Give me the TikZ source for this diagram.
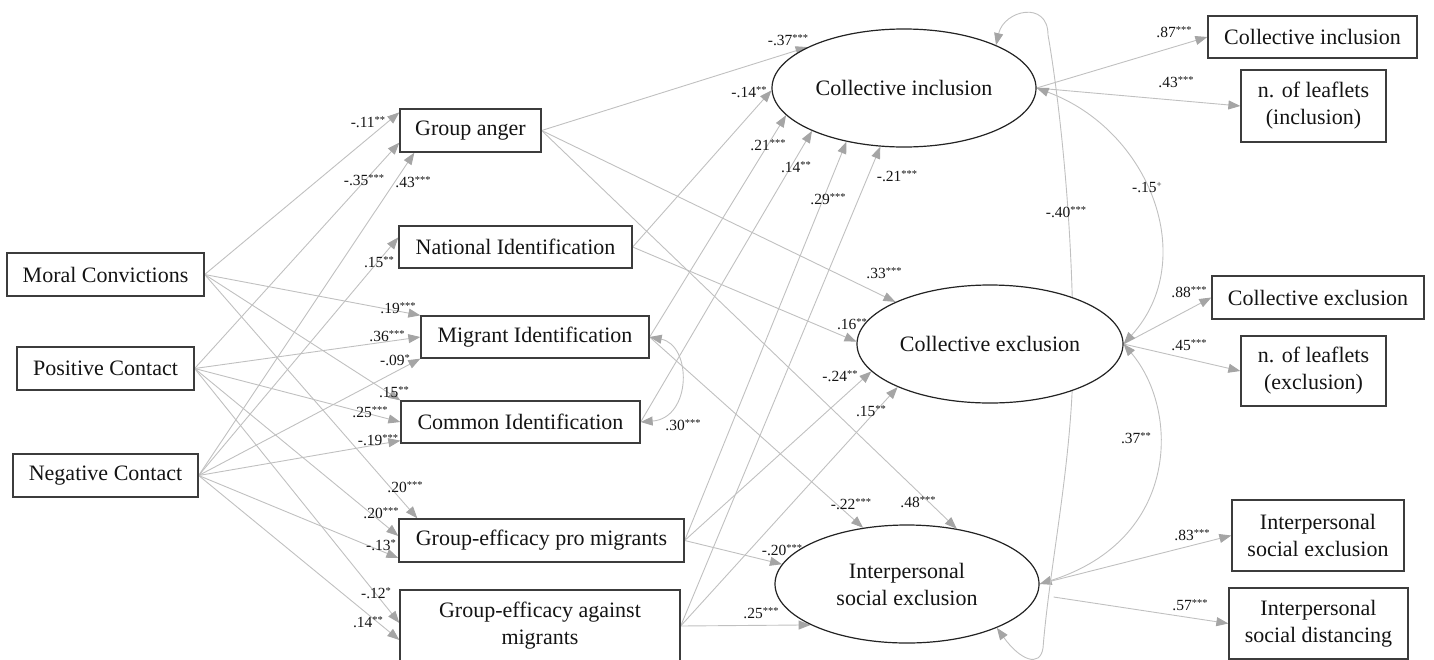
\documentclass[tikz,border=0pt]{standalone}
\usepackage{fontspec}
\setmainfont{Liberation Serif}
\usetikzlibrary{shapes.geometric,arrows.meta,calc}
\pgfdeclarelayer{bg}
\pgfsetlayers{bg,main}
\definecolor{linec}{RGB}{192,192,192}
\definecolor{headc}{RGB}{165,165,165}
\definecolor{boxc}{RGB}{60,60,60}
\definecolor{ellc}{RGB}{35,35,35}
\definecolor{txtc}{RGB}{20,20,20}
\newcommand{\pst}[1]{\raisebox{4.2pt}{\fontsize{10.5}{10.5}\selectfont #1}}
\begin{document}
\begin{tikzpicture}[x=1pt,y=-1pt,
  box/.style={draw=boxc,line width=1.3pt,fill=white,inner sep=0pt,align=center,text=txtc,font=\fontsize{22}{27}\selectfont},
  lat/.style={ellipse,draw=ellc,line width=1.2pt,fill=white,inner sep=0pt,align=center,text=txtc,font=\fontsize{22}{27}\selectfont,minimum width=264,minimum height=118},
  lab/.style={inner sep=0pt,text=txtc,font=\fontsize{15.5}{16}\selectfont},
  arr/.style={draw=linec,line width=0.9pt,-{Triangle[length=12pt,width=9pt,color=headc]}},
  cov/.style={draw=linec,line width=0.9pt,{Triangle[length=12pt,width=9pt,color=headc]}-{Triangle[length=12pt,width=9pt,color=headc]}}
]
\useasboundingbox (0,0) rectangle (1434,659);
% left
\node[box,minimum width=197,minimum height=43] (mc) at (105.5,274.5) {Moral Convictions};
\node[box,minimum width=177,minimum height=43] (pc) at (105.5,368.5) {Positive Contact};
\node[box,minimum width=185,minimum height=43] (nc) at (105.5,475.5) {Negative Contact};
% middle
\node[box,minimum width=141,minimum height=43] (ga) at (470.5,130.5) {Group anger};
\node[box,minimum width=233,minimum height=42] (ni) at (515.5,247) {National Identification};
\node[box,minimum width=228,minimum height=42] (mi) at (535,337) {Migrant Identification};
\node[box,minimum width=239,minimum height=42] (cid) at (520.5,422) {Common Identification};
\node[box,minimum width=285,minimum height=43] (gep) at (541.5,540.5) {Group-efficacy pro migrants};
\node[box,minimum width=280,minimum height=72] (gea) at (540,626) {Group-efficacy against\\migrants};
% latent
\node[lat] (lci) at (904,88) {Collective inclusion};
\node[lat,minimum width=266] (lce) at (990,344) {Collective exclusion};
\node[lat] (lise) at (907,584) {Interpersonal\\social exclusion};
% right
\node[box,minimum width=209,minimum height=42] (oci) at (1312.5,37) {Collective inclusion};
\node[box,minimum width=145,minimum height=72] (onli) at (1313.5,106) {n. of leaflets\\(inclusion)};
\node[box,minimum width=212,minimum height=43] (oce) at (1318,297.5) {Collective exclusion};
\node[box,minimum width=145,minimum height=70] (onle) at (1313.5,371) {n. of leaflets\\(exclusion)};
\node[box,minimum width=172,minimum height=71] (oise) at (1318,535.5) {Interpersonal\\social exclusion};
\node[box,minimum width=179,minimum height=71] (oisd) at (1318.5,623.5) {Interpersonal\\social distancing};
\coordinate (isdS) at ($(lise.east)+(14,13)$);

\begin{pgfonlayer}{bg}
% left -> middle
\draw[arr] (mc.east) -- ($(ga.north west)+(0,4)$);
\draw[arr] (pc.east) -- ($(ga.south west)+(0,-10)$);
\draw[arr] (nc.east) -- ($(ga.south west)+(15,0)$);
\draw[arr] (nc.east) -- ($(ni.north west)+(0,12)$);
\draw[arr] (mc.east) -- (mi.north west);
\draw[arr] (pc.east) -- (mi.west);
\draw[arr] (nc.east) -- (mi.south west);
\draw[arr] (mc.east) -- (cid.north west);
\draw[arr] (pc.east) -- (cid.west);
\draw[arr] (nc.east) -- ($(cid.south west)+(0,-3)$);
\draw[arr] (mc.east) -- ($(gep.north west)+(19,0)$);
\draw[arr] (pc.east) -- ($(gep.west)+(0,-4.5)$);
\draw[arr] (nc.east) -- ($(gep.west)+(0,17.5)$);
\draw[arr] (pc.east) -- ($(gea.west)+(0,-3)$);
\draw[arr] (nc.east) -- ($(gea.west)+(0,14)$);
% middle -> latent
\draw[arr] (ga.east) -- (lci.157.4);
\draw[arr] (ga.east) -- (lce.156.6);
\draw[arr] (ga.east) -- (lise.48.1);
\draw[arr] (ni.east) -- (lci.181.7);
\draw[arr] (ni.east) -- (lce.179.2);
\draw[arr] (mi.east) -- (lci.193.3);
\draw[arr] (mi.east) -- (lise.128.8);
\draw[arr] (cid.east) -- (lci.205.8);
\draw[arr] (gep.east) -- (lci.223.6);
\draw[arr] (gep.east) -- (lce.193.6);
\draw[arr] (gep.east) -- (lise.171.4);
\draw[arr] (gea.east) -- (lci.248.8);
\draw[arr] (gea.east) -- (lce.205.4);
\draw[arr] (gea.east) -- (lise.203.6);
% loadings
\draw[arr] (lci.east) -- (oci.west);
\draw[arr] (lci.east) -- (onli.west);
\draw[arr] (lce.east) -- (oce.west);
\draw[arr] (lce.east) -- (onle.west);
\draw[arr] (lise.east) -- (oise.west);
\draw[arr] (isdS) -- (oisd.west);
% covariances
\draw[cov] (mi.east) .. controls (692,345) and (692,418) .. (cid.east);
\draw[cov] (lci.east) .. controls (1150,130) and (1200,260) .. (lce.east);
\draw[cov] (lce.east) .. controls (1180,410) and (1180,540) .. (lise.east);
\draw[cov] (lci.25.6) .. controls (1004,10) and (1048,0) .. (1048,35) .. controls (1056,80) and (1072,200) .. (1073,340) .. controls (1075,450) and (1050,560) .. (1043,648) .. controls (1040,668) and (1020,660) .. (lise.334.2);
\end{pgfonlayer}

% labels
\node[lab] (l1) at (368,122) {-.11\pst{**}};
\node[lab] (l2) at (364,180) {-.35\pst{***}};
\node[lab] (l3) at (413,182) {.43\pst{***}};
\node[lab] (l4) at (379,262) {.15\pst{**}};
\node[lab] (l5) at (398,308) {.19\pst{***}};
\node[lab] (l6) at (387,336) {.36\pst{***}};
\node[lab] (l7) at (395,360) {-.09\pst{*}};
\node[lab] (l8) at (394,392) {.15\pst{**}};
\node[lab] (l9) at (370,412) {.25\pst{***}};
\node[lab] (l10) at (378,440) {-.19\pst{***}};
\node[lab] (l11) at (405,487) {.20\pst{***}};
\node[lab] (l12) at (381,513) {.20\pst{***}};
\node[lab] (l13) at (381,545) {-.13\pst{*}};
\node[lab] (l14) at (376,593) {-.12\pst{*}};
\node[lab] (l15) at (368,622) {.14\pst{**}};
\node[lab] (l16) at (788,40) {-.37\pst{***}};
\node[lab] (l17) at (749,92) {-.14\pst{**}};
\node[lab] (l18) at (768,145) {.21\pst{***}};
\node[lab] (l19) at (796,167) {.14\pst{**}};
\node[lab] (l20) at (828,199) {.29\pst{***}};
\node[lab] (l21) at (897,176) {-.21\pst{***}};
\node[lab] (l22) at (884,273) {.33\pst{***}};
\node[lab] (l23) at (852,324) {.16\pst{**}};
\node[lab] (l24) at (840,376) {-.24\pst{**}};
\node[lab] (l25) at (871,411) {.15\pst{**}};
\node[lab] (l26) at (683,425) {.30\pst{***}};
\node[lab] (l27) at (851,504) {-.22\pst{***}};
\node[lab] (l28) at (918,502) {.48\pst{***}};
\node[lab] (l29) at (782,550) {-.20\pst{***}};
\node[lab] (l30) at (761,613) {.25\pst{***}};
\node[lab] (l31) at (1174,32) {.87\pst{***}};
\node[lab] (l32) at (1176,82) {.43\pst{***}};
\node[lab] (l33) at (1147,187) {-.15\raisebox{5pt}{\fontsize{9}{9}\selectfont +}};
\node[lab] (l34) at (1066,212) {-.40\pst{***}};
\node[lab] (l35) at (1189,292) {.88\pst{***}};
\node[lab] (l36) at (1189,345) {.45\pst{***}};
\node[lab] (l37) at (1136,438) {.37\pst{**}};
\node[lab] (l38) at (1192,535) {.83\pst{***}};
\node[lab] (l39) at (1190,605) {.57\pst{***}};
\end{tikzpicture}
\end{document}
